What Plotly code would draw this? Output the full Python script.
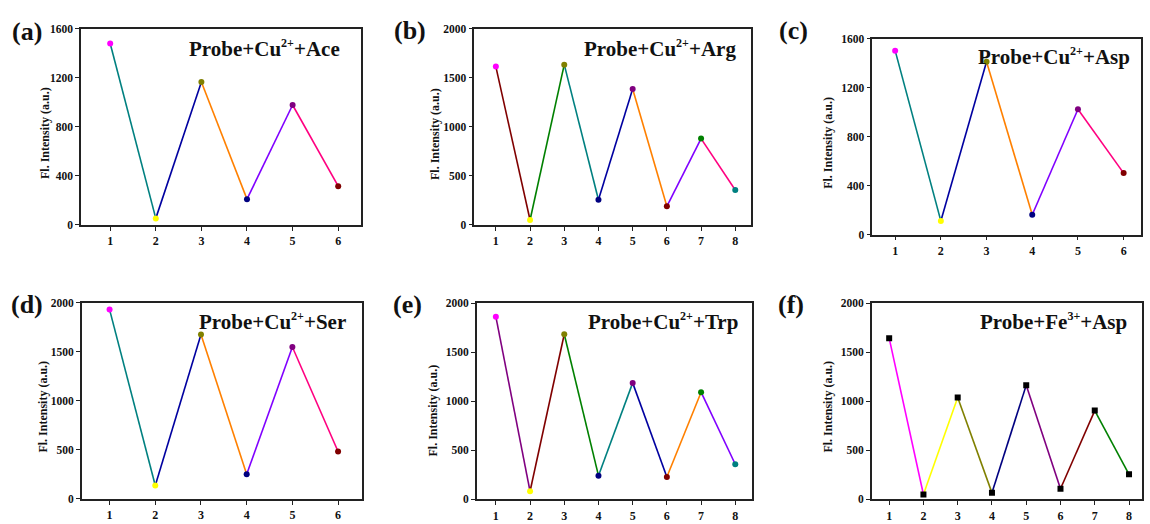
import plotly.graph_objects as go

# ---------------- data ----------------
cycles_6 = [1, 2, 3, 4, 5, 6]
cycles_8 = [1, 2, 3, 4, 5, 6, 7, 8]

ace = [1480, 53, 1166, 210, 978, 316]
arg = [1614, 50, 1634, 256, 1385, 189, 880, 356]
asp_cu = [1501, 112, 1411, 162, 1023, 502]
ser = [1930, 136, 1675, 249, 1548, 482]
trp = [1861, 83, 1682, 242, 1187, 229, 1092, 358]
asp_fe = [1642, 50, 1038, 67, 1164, 109, 905, 256]

SUP = "<sup><span style='font-size:12px'>{}</span></sup>"
titles = [
    "Probe+Cu" + SUP.format("2+") + "+Ace",
    "Probe+Cu" + SUP.format("2+") + "+Arg",
    "Probe+Cu" + SUP.format("2+") + "+Asp",
    "Probe+Cu" + SUP.format("2+") + "+Ser",
    "Probe+Cu" + SUP.format("2+") + "+Trp",
    "Probe+Fe" + SUP.format("3+") + "+Asp",
]
panel_labels = ["(a)", "(b)", "(c)", "(d)", "(e)", "(f)"]
y_ticks_1600 = [0, 400, 800, 1200, 1600]
y_ticks_2000 = [0, 500, 1000, 1500, 2000]
y_title = "Fl. Intensity (a.u.)"

# Origin-like colour palette
MAGENTA, YELLOW, DKYELLOW = "#FF00FF", "#FFFF00", "#808000"
NAVY, PURPLE, WINE = "#000080", "#800080", "#800000"
OLIVE, DKCYAN, ROYAL = "#008000", "#008080", "#0000A0"
ORANGE, VIOLET, PINK = "#FF8000", "#8000FF", "#FF0080"

marker_cols_8 = [MAGENTA, YELLOW, DKYELLOW, NAVY, PURPLE, WINE, OLIVE, DKCYAN]
line_cols_a = [DKCYAN, ROYAL, ORANGE, VIOLET, PINK]
line_cols_b = [WINE, OLIVE, DKCYAN, ROYAL, ORANGE, VIOLET, PINK]
line_cols_e = [PURPLE, WINE, OLIVE, DKCYAN, ROYAL, ORANGE, VIOLET]
line_cols_f = [MAGENTA, YELLOW, DKYELLOW, NAVY, PURPLE, WINE, OLIVE]

panels = [
    dict(x=cycles_6, y=ace, lc=line_cols_a, mc=marker_cols_8[:6], sym="circle",
         yt=y_ticks_1600, xr=[0.36, 6.5], xd=[81, 361], yd=[23.3, 224],
         lab=(27, 26), tt=(342, 43), yl=(45, 130)),
    dict(x=cycles_8, y=arg, lc=line_cols_b, mc=marker_cols_8, sym="circle",
         yt=y_ticks_2000, xr=[0.37, 8.46], xd=[474.3, 751], yd=[23.3, 224],
         lab=(410, 25), tt=(738, 43), yl=(435, 131)),
    dict(x=cycles_6, y=asp_cu, lc=line_cols_a, mc=marker_cols_8[:6], sym="circle",
         yt=y_ticks_1600, xr=[0.5, 6.38], xd=[872.3, 1141], yd=[33.3, 234],
         lab=(793, 25), tt=(1132, 52), yl=(828, 140)),
    dict(x=cycles_6, y=ser, lc=line_cols_a, mc=marker_cols_8[:6], sym="circle",
         yt=y_ticks_2000, xr=[0.39, 6.53], xd=[81.7, 362.3], yd=[303.7, 504.3],
         lab=(27, 305), tt=(348, 323), yl=(43, 410)),
    dict(x=cycles_8, y=trp, lc=line_cols_e, mc=marker_cols_8, sym="circle",
         yt=y_ticks_2000, xr=[0.44, 8.48], xd=[476.7, 751.7], yd=[304, 505],
         lab=(408, 306), tt=(740, 323), yl=(433, 414)),
    dict(x=cycles_8, y=asp_fe, lc=line_cols_f, mc=["#000000"] * 8, sym="square",
         yt=y_ticks_2000, xr=[0.49, 8.37], xd=[871.7, 1141.7], yd=[304, 505],
         lab=(791, 305), tt=(1129, 323), yl=(828, 410)),
]

W, H = 1150, 524
FONT = "Liberation Serif"
AXC = "#222222"
TXT = "#111111"

fig = go.Figure()
layout_axes = {}
annotations = []

for i, p in enumerate(panels):
    k = "" if i == 0 else str(i + 1)
    xa, ya = "x" + k, "y" + k
    xs, ys = p["x"], p["y"]
    # coloured segments between consecutive points
    for j in range(len(xs) - 1):
        fig.add_trace(go.Scatter(
            x=[xs[j], xs[j + 1]], y=[ys[j], ys[j + 1]], mode="lines",
            line=dict(color=p["lc"][j], width=1.6),
            xaxis=xa, yaxis=ya, showlegend=False, hoverinfo="skip"))
    # markers
    fig.add_trace(go.Scatter(
        x=xs, y=ys, mode="markers",
        marker=dict(color=p["mc"], size=6, symbol=p["sym"], line=dict(width=0)),
        xaxis=xa, yaxis=ya, showlegend=False))

    ymax = p["yt"][-1]
    layout_axes["xaxis" + k] = dict(
        domain=[p["xd"][0] / W, p["xd"][1] / W],
        range=p["xr"], tickvals=xs, ticktext=["<b>%d</b>" % v for v in xs],
        showline=True, mirror=True, linecolor=AXC, linewidth=1.5,
        ticks="outside", ticklen=4, tickwidth=1.3, tickcolor=AXC,
        showgrid=False, zeroline=False, anchor=ya,
        tickfont=dict(family=FONT, size=12, color=TXT),
    )
    layout_axes["yaxis" + k] = dict(
        domain=[1 - p["yd"][1] / H, 1 - p["yd"][0] / H],
        range=[0, ymax], tickvals=p["yt"], ticktext=["<b>%d</b>" % v for v in p["yt"]],
        showline=True, mirror=True, linecolor=AXC, linewidth=1.5,
        ticks="outside", ticklen=4, tickwidth=1.3, tickcolor=AXC,
        showgrid=False, zeroline=False, anchor=xa,
        tickfont=dict(family=FONT, size=11.5, color=TXT),
    )
    annotations.append(dict(
        text="<b>" + y_title + "</b>", xref="paper", yref="paper", textangle=-90,
        x=p["yl"][0] / W, y=1 - p["yl"][1] / H, xanchor="center", yanchor="middle",
        showarrow=False, font=dict(family=FONT, size=12, color=TXT)))
    annotations.append(dict(
        text="<b>" + panel_labels[i] + "</b>", xref="paper", yref="paper",
        x=p["lab"][0] / W, y=1 - p["lab"][1] / H, xanchor="center", yanchor="middle",
        showarrow=False, font=dict(family=FONT, size=26, color=TXT)))
    annotations.append(dict(
        text="<b>" + titles[i] + "</b>", xref="paper", yref="paper",
        x=p["tt"][0] / W, y=1 - p["tt"][1] / H, xanchor="right", yanchor="middle",
        showarrow=False, font=dict(family=FONT, size=21, color=TXT)))

fig.update_layout(
    width=W, height=H, margin=dict(l=0, r=0, t=0, b=0),
    paper_bgcolor="white", plot_bgcolor="white",
    annotations=annotations, **layout_axes)

fig.write_html("out.html")
